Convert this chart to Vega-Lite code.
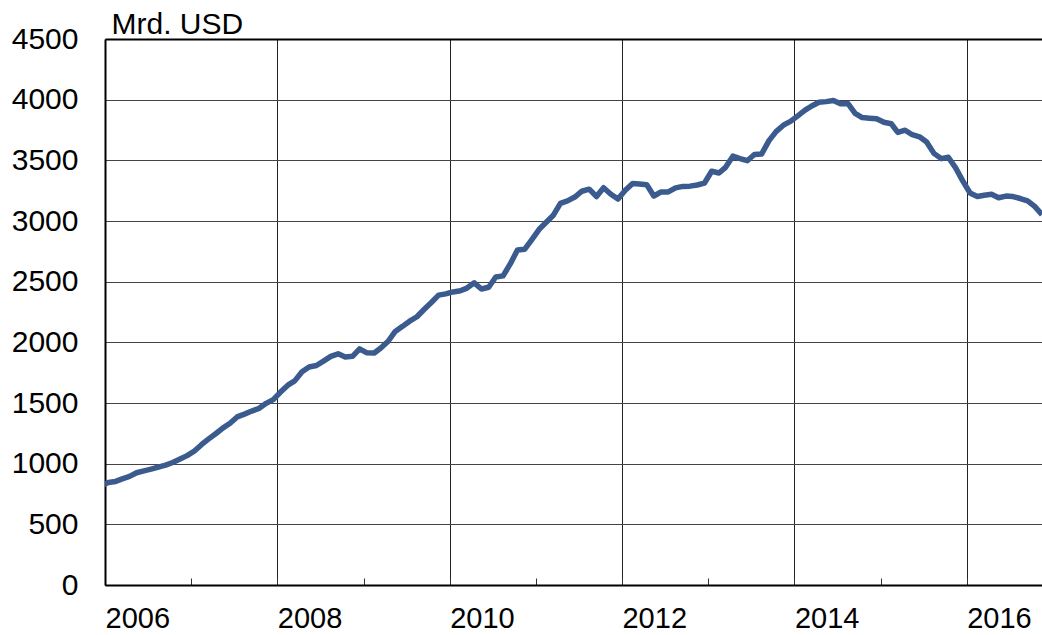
{
  "$schema": "https://vega.github.io/schema/vega-lite/v6.json",
  "width": 937,
  "height": 546,
  "autosize": {"type": "none"},
  "padding": {"left": 105, "top": 39, "right": 0, "bottom": 50},
  "background": "white",
  "config": {
    "view": {"stroke": null},
    "font": "Liberation Sans"
  },
  "data": {
    "values": [
      {"date": "2005-12-15", "value": 818.9},
      {"date": "2006-01-15", "value": 845.2},
      {"date": "2006-02-15", "value": 853.7},
      {"date": "2006-03-15", "value": 875.1},
      {"date": "2006-04-15", "value": 895.0},
      {"date": "2006-05-15", "value": 925.0},
      {"date": "2006-06-15", "value": 941.1},
      {"date": "2006-07-15", "value": 954.5},
      {"date": "2006-08-15", "value": 971.9},
      {"date": "2006-09-15", "value": 987.9},
      {"date": "2006-10-15", "value": 1009.6},
      {"date": "2006-11-15", "value": 1038.6},
      {"date": "2006-12-15", "value": 1066.3},
      {"date": "2007-01-15", "value": 1104.7},
      {"date": "2007-02-15", "value": 1158.4},
      {"date": "2007-03-15", "value": 1202.0},
      {"date": "2007-04-15", "value": 1246.6},
      {"date": "2007-05-15", "value": 1292.7},
      {"date": "2007-06-15", "value": 1332.6},
      {"date": "2007-07-15", "value": 1385.2},
      {"date": "2007-08-15", "value": 1408.6},
      {"date": "2007-09-15", "value": 1433.6},
      {"date": "2007-10-15", "value": 1454.9},
      {"date": "2007-11-15", "value": 1497.0},
      {"date": "2007-12-15", "value": 1528.2},
      {"date": "2008-01-15", "value": 1589.8},
      {"date": "2008-02-15", "value": 1647.1},
      {"date": "2008-03-15", "value": 1682.2},
      {"date": "2008-04-15", "value": 1756.7},
      {"date": "2008-05-15", "value": 1797.0},
      {"date": "2008-06-15", "value": 1808.8},
      {"date": "2008-07-15", "value": 1845.2},
      {"date": "2008-08-15", "value": 1884.2},
      {"date": "2008-09-15", "value": 1905.6},
      {"date": "2008-10-15", "value": 1879.7},
      {"date": "2008-11-15", "value": 1884.7},
      {"date": "2008-12-15", "value": 1946.0},
      {"date": "2009-01-15", "value": 1913.5},
      {"date": "2009-02-15", "value": 1912.1},
      {"date": "2009-03-15", "value": 1953.7},
      {"date": "2009-04-15", "value": 2008.9},
      {"date": "2009-05-15", "value": 2089.5},
      {"date": "2009-06-15", "value": 2131.6},
      {"date": "2009-07-15", "value": 2174.5},
      {"date": "2009-08-15", "value": 2210.8},
      {"date": "2009-09-15", "value": 2272.6},
      {"date": "2009-10-15", "value": 2328.3},
      {"date": "2009-11-15", "value": 2388.8},
      {"date": "2009-12-15", "value": 2399.2},
      {"date": "2010-01-15", "value": 2415.2},
      {"date": "2010-02-15", "value": 2424.6},
      {"date": "2010-03-15", "value": 2447.1},
      {"date": "2010-04-15", "value": 2490.5},
      {"date": "2010-05-15", "value": 2439.5},
      {"date": "2010-06-15", "value": 2454.3},
      {"date": "2010-07-15", "value": 2538.4},
      {"date": "2010-08-15", "value": 2547.8},
      {"date": "2010-09-15", "value": 2648.3},
      {"date": "2010-10-15", "value": 2760.9},
      {"date": "2010-11-15", "value": 2767.8},
      {"date": "2010-12-15", "value": 2847.3},
      {"date": "2011-01-15", "value": 2931.7},
      {"date": "2011-02-15", "value": 2991.4},
      {"date": "2011-03-15", "value": 3044.7},
      {"date": "2011-04-15", "value": 3145.7},
      {"date": "2011-05-15", "value": 3166.2},
      {"date": "2011-06-15", "value": 3197.5},
      {"date": "2011-07-15", "value": 3245.3},
      {"date": "2011-08-15", "value": 3262.5},
      {"date": "2011-09-15", "value": 3201.7},
      {"date": "2011-10-15", "value": 3273.8},
      {"date": "2011-11-15", "value": 3220.9},
      {"date": "2011-12-15", "value": 3181.1},
      {"date": "2012-01-15", "value": 3253.6},
      {"date": "2012-02-15", "value": 3309.5},
      {"date": "2012-03-15", "value": 3305.0},
      {"date": "2012-04-15", "value": 3298.9},
      {"date": "2012-05-15", "value": 3206.1},
      {"date": "2012-06-15", "value": 3240.0},
      {"date": "2012-07-15", "value": 3240.0},
      {"date": "2012-08-15", "value": 3273.0},
      {"date": "2012-09-15", "value": 3285.1},
      {"date": "2012-10-15", "value": 3287.4},
      {"date": "2012-11-15", "value": 3297.0},
      {"date": "2012-12-15", "value": 3311.6},
      {"date": "2013-01-15", "value": 3410.0},
      {"date": "2013-02-15", "value": 3395.4},
      {"date": "2013-03-15", "value": 3442.6},
      {"date": "2013-04-15", "value": 3534.5},
      {"date": "2013-05-15", "value": 3514.8},
      {"date": "2013-06-15", "value": 3496.7},
      {"date": "2013-07-15", "value": 3547.8},
      {"date": "2013-08-15", "value": 3553.0},
      {"date": "2013-09-15", "value": 3662.7},
      {"date": "2013-10-15", "value": 3736.6},
      {"date": "2013-11-15", "value": 3789.5},
      {"date": "2013-12-15", "value": 3821.3},
      {"date": "2014-01-15", "value": 3866.6},
      {"date": "2014-02-15", "value": 3913.7},
      {"date": "2014-03-15", "value": 3948.1},
      {"date": "2014-04-15", "value": 3978.8},
      {"date": "2014-05-15", "value": 3983.9},
      {"date": "2014-06-15", "value": 3993.2},
      {"date": "2014-07-15", "value": 3966.3},
      {"date": "2014-08-15", "value": 3968.8},
      {"date": "2014-09-15", "value": 3887.7},
      {"date": "2014-10-15", "value": 3852.9},
      {"date": "2014-11-15", "value": 3847.4},
      {"date": "2014-12-15", "value": 3843.0},
      {"date": "2015-01-15", "value": 3813.4},
      {"date": "2015-02-15", "value": 3801.5},
      {"date": "2015-03-15", "value": 3730.0},
      {"date": "2015-04-15", "value": 3748.2},
      {"date": "2015-05-15", "value": 3711.1},
      {"date": "2015-06-15", "value": 3693.8},
      {"date": "2015-07-15", "value": 3651.3},
      {"date": "2015-08-15", "value": 3557.4},
      {"date": "2015-09-15", "value": 3514.1},
      {"date": "2015-10-15", "value": 3525.5},
      {"date": "2015-11-15", "value": 3438.3},
      {"date": "2015-12-15", "value": 3330.4},
      {"date": "2016-01-15", "value": 3230.9},
      {"date": "2016-02-15", "value": 3202.3},
      {"date": "2016-03-15", "value": 3212.6},
      {"date": "2016-04-15", "value": 3219.7},
      {"date": "2016-05-15", "value": 3191.7},
      {"date": "2016-06-15", "value": 3205.2},
      {"date": "2016-07-15", "value": 3201.1},
      {"date": "2016-08-15", "value": 3185.2},
      {"date": "2016-09-15", "value": 3166.4},
      {"date": "2016-10-15", "value": 3120.6},
      {"date": "2016-11-15", "value": 3051.6}
    ]
  },
  "mark": {
    "type": "line",
    "clip": true,
    "color": "#3b5b8f",
    "strokeWidth": 5.5,
    "strokeJoin": "round",
    "strokeCap": "butt"
  },
  "encoding": {
    "x": {
      "field": "date",
      "type": "temporal",
      "scale": {
        "type": "utc",
        "domain": [
          {"year": 2006, "month": 1, "date": 1, "utc": true},
          {"year": 2016, "month": 11, "date": 15, "utc": true}
        ]
      },
      "axis": {
        "title": null,
        "values": [
          {"year": 2006, "month": 1, "date": 1, "utc": true},
          {"year": 2007, "month": 1, "date": 1, "utc": true},
          {"year": 2008, "month": 1, "date": 1, "utc": true},
          {"year": 2009, "month": 1, "date": 1, "utc": true},
          {"year": 2010, "month": 1, "date": 1, "utc": true},
          {"year": 2011, "month": 1, "date": 1, "utc": true},
          {"year": 2012, "month": 1, "date": 1, "utc": true},
          {"year": 2013, "month": 1, "date": 1, "utc": true},
          {"year": 2014, "month": 1, "date": 1, "utc": true},
          {"year": 2015, "month": 1, "date": 1, "utc": true},
          {"year": 2016, "month": 1, "date": 1, "utc": true}
        ],
        "labelExpr": "utcyear(datum.value) % 2 == 0 ? utcFormat(datum.value, '%Y') : ''",
        "labelFont": "Liberation Sans",
        "labelFontSize": 29,
        "labelColor": "black",
        "labelAlign": "left",
        "labelDx": -4,
        "labelPadding": 26,
        "labelFlush": false,
        "labelOverlap": false,
        "tickSize": -7,
        "tickColor": "#333333",
        "tickWidth": 1,
        "domainColor": "black",
        "domainWidth": 2,
        "grid": true,
        "gridColor": "#222222",
        "gridWidth": 1,
        "gridOpacity": {"condition": {"test": "utcyear(datum.value) % 2 == 1", "value": 0}, "value": 1}
      }
    },
    "y": {
      "field": "value",
      "type": "quantitative",
      "scale": {"domain": [0, 4500], "nice": false, "zero": true},
      "axis": {
        "title": "Mrd. USD",
        "titleAngle": 0,
        "titleFont": "Liberation Sans",
        "titleFontSize": 30,
        "titleFontWeight": "normal",
        "titleColor": "black",
        "titleAlign": "left",
        "titleBaseline": "alphabetic",
        "titleX": 6,
        "titleY": -6,
        "values": [0, 500, 1000, 1500, 2000, 2500, 3000, 3500, 4000, 4500],
        "format": "d",
        "labelFont": "Liberation Sans",
        "labelFontSize": 30,
        "labelColor": "black",
        "labelPadding": 27,
        "ticks": false,
        "domainColor": "black",
        "domainWidth": 2,
        "grid": true,
        "gridColor": {"condition": {"test": "datum.value == 4500", "value": "black"}, "value": "#444444"},
        "gridWidth": {"condition": {"test": "datum.value == 4500", "value": 2}, "value": 1}
      }
    }
  }
}
